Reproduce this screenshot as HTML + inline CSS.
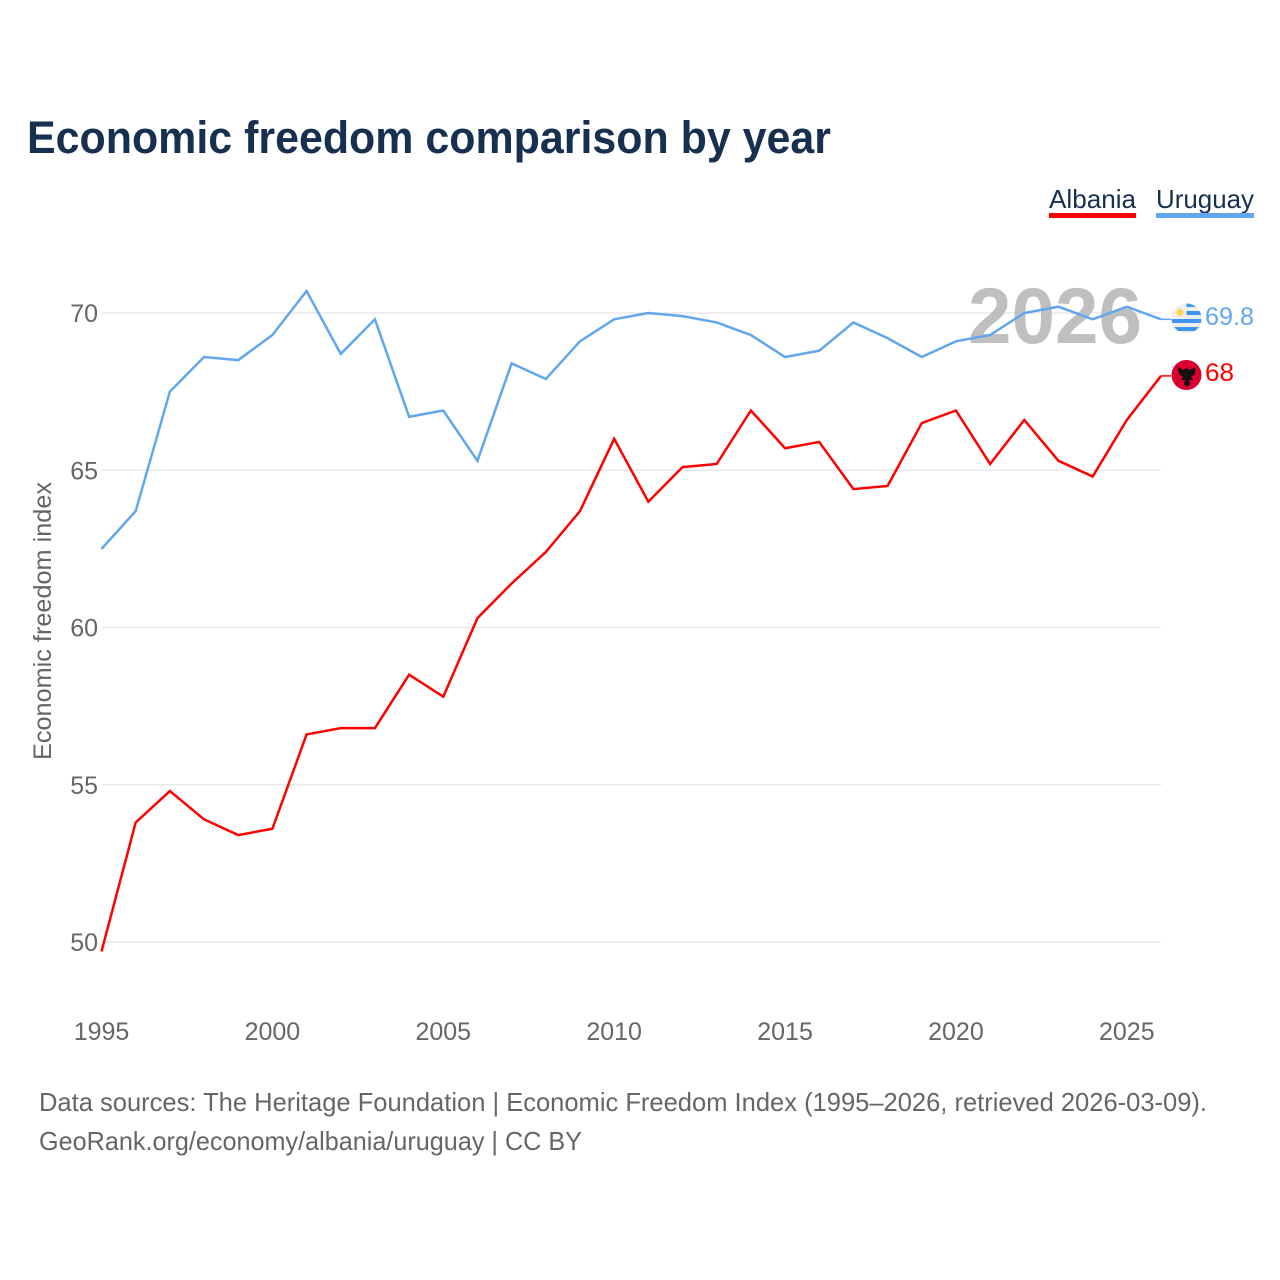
<!DOCTYPE html>
<html>
<head>
<meta charset="utf-8">
<style>
html,body{margin:0;padding:0;background:#fff;width:1280px;height:1280px;overflow:hidden}
svg{display:block}
text{font-family:"Liberation Sans",sans-serif}
</style>
</head>
<body>
<svg id="chart" width="1280" height="1280" viewBox="0 0 1280 1280" xmlns="http://www.w3.org/2000/svg">
<rect width="1280" height="1280" fill="#fff"/>
<text x="27" y="153" font-size="45" font-weight="700" fill="#18304f" textLength="804" lengthAdjust="spacingAndGlyphs">Economic freedom comparison by year</text>
<g>
<text x="1049" y="208" font-size="26" fill="#18304f" textLength="87" lengthAdjust="spacingAndGlyphs">Albania</text>
<rect x="1049" y="213" width="87" height="5" fill="#ff0000"/>
</g>
<g>
<text x="1156" y="208" font-size="26" fill="#18304f" textLength="98" lengthAdjust="spacingAndGlyphs">Uruguay</text>
<rect x="1156" y="213" width="98" height="5" fill="#62a6ee"/>
</g>
<g id="grid"></g>
<g id="yticks"></g>
<g id="xticks"></g>
<text transform="translate(51,760) rotate(-90)" font-size="25" fill="#666" textLength="278" lengthAdjust="spacingAndGlyphs">Economic freedom index</text>
<text x="968" y="343" font-size="79" font-weight="700" fill="#bfbfbf" textLength="174" lengthAdjust="spacingAndGlyphs">2026</text>
<g id="series"></g>
<g>
<clipPath id="clip-uy"><circle cx="1186.500" cy="318.500" r="15"/></clipPath>
<circle cx="1186.500" cy="318.500" r="15" fill="#eeeeee"/>
<g clip-path="url(#clip-uy)" fill="#3d95ee">
<rect x="1186.500" y="303" width="16" height="4"/>
<rect x="1186.500" y="311" width="16" height="4"/>
<rect x="1170" y="319" width="33" height="4"/>
<rect x="1170" y="327" width="33" height="4"/>
</g>
<circle cx="1180" cy="312.500" r="3.500" fill="#ffd34d"/>
</g>
<g>
<circle cx="1186.500" cy="375" r="15" fill="#d9002f"/>
<path d="M1178 367l5 3 3.500-2 3.500 2 5-3v7l-4 3 2 3-4 0 1 4-3 3-3-3 1-4-4 0 2-3-4-3z" fill="#111"/>
</g>
<text id="label-uruguay" x="1205" y="325" font-size="25" fill="#62a6ee" textLength="49" lengthAdjust="spacingAndGlyphs"></text>
<text id="label-albania" x="1205" y="381" font-size="25" fill="#ff0000" textLength="29" lengthAdjust="spacingAndGlyphs"></text>
<text x="39" y="1111" font-size="26" fill="#666" textLength="1168" lengthAdjust="spacingAndGlyphs">Data sources: The Heritage Foundation | Economic Freedom Index (1995–2026, retrieved 2026-03-09).</text>
<text x="39" y="1150" font-size="26" fill="#666" textLength="543" lengthAdjust="spacingAndGlyphs">GeoRank.org/economy/albania/uruguay | CC BY</text>
</svg>
<script>
const years = [1995,1996,1997,1998,1999,2000,2001,2002,2003,2004,2005,2006,2007,2008,2009,2010,2011,2012,2013,2014,2015,2016,2017,2018,2019,2020,2021,2022,2023,2024,2025,2026];
const albania = [49.7,53.8,54.8,53.9,53.4,53.6,56.6,56.8,56.8,58.5,57.8,60.3,61.4,62.4,63.7,66,64,65.1,65.2,66.9,65.7,65.9,64.4,64.5,66.5,66.9,65.2,66.6,65.3,64.8,66.6,68];
const uruguay = [62.5,63.7,67.5,68.6,68.5,69.3,70.7,68.7,69.8,66.7,66.9,65.3,68.4,67.9,69.1,69.8,70,69.9,69.7,69.3,68.6,68.8,69.7,69.2,68.6,69.1,69.3,70,70.2,69.8,70.2,69.8];
const yTickValues = [50,55,60,65,70];
const xTickValues = [1995,2000,2005,2010,2015,2020,2025];

const NS = 'http://www.w3.org/2000/svg';
function xScale(year){ return 101.5 + (year - 1995) * (1161 - 101.5) / (2026 - 1995); }
function yScale(value){ return 942 - (value - 50) * (942 - 313) / (70 - 50); }
function make(tag, attrs, parent){
  const el = document.createElementNS(NS, tag);
  for (const k in attrs) el.setAttribute(k, attrs[k]);
  parent.appendChild(el);
  return el;
}
const gridG = document.getElementById('grid');
const yG = document.getElementById('yticks');
const xG = document.getElementById('xticks');
const seriesG = document.getElementById('series');

yTickValues.forEach(function(v){
  const line = make('line', {x1:102, x2:1161, y1:yScale(v), y2:yScale(v), stroke:'#e9e9e9', 'stroke-width':1.5}, gridG);
  
  
  const t = make('text', {x:98, y:yScale(v)+9, 'text-anchor':'end', 'font-size':25, fill:'#666'}, yG);
  
  
  t.textContent = v;
});
xTickValues.forEach(function(v){
  const t = make('text', {x:xScale(v), y:1040, 'text-anchor':'middle', 'font-size':25, fill:'#666'}, xG);
  
  
  t.textContent = v;
});
function pathFor(values){
  return values.map(function(v,i){ return (i ? 'L' : 'M') + xScale(years[i]).toFixed(2) + ' ' + yScale(v).toFixed(2); }).join('');
}
function leader(values){
  const last = values[values.length-1];
  return 'M' + xScale(2026) + ' ' + yScale(last).toFixed(2) + 'H1171';
}
const uruguayLine = make('path', {d:pathFor(uruguay), fill:'none', stroke:'#62a6ee', 'stroke-width':2.5, 'stroke-linejoin':'miter'}, seriesG);


const albaniaLine = make('path', {d:pathFor(albania), fill:'none', stroke:'#ff0000', 'stroke-width':2.5, 'stroke-linejoin':'miter'}, seriesG);


const uruguayLeader = make('path', {d:leader(uruguay), fill:'none', stroke:'#62a6ee', 'stroke-width':1.5}, seriesG);


const albaniaLeader = make('path', {d:leader(albania), fill:'none', stroke:'#ff0000', 'stroke-width':1.5}, seriesG);


document.getElementById('label-uruguay').textContent = uruguay[uruguay.length-1];
document.getElementById('label-albania').textContent = albania[albania.length-1];
</script>
</body>
</html>
